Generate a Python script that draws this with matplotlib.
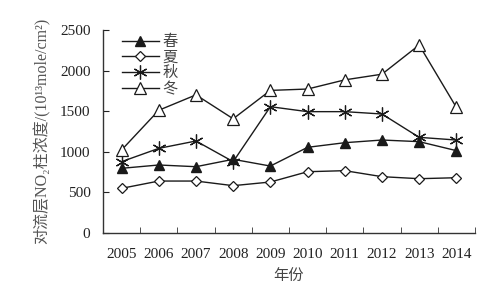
import matplotlib
matplotlib.use("Agg")
import matplotlib.pyplot as plt
from matplotlib.ticker import FixedLocator, NullFormatter

plt.rcParams['font.family'] = ['Liberation Serif', 'Noto Sans CJK SC', 'DejaVu Serif']

years = ['2005', '2006', '2007', '2008', '2009', '2010', '2011', '2012', '2013', '2014']
spring = [794, 835, 814, 905, 822, 1053, 1110, 1143, 1123, 1012]
summer = [547, 637, 637, 580, 625, 752, 765, 691, 666, 678]
autumn = [876, 1040, 1131, 876, 1554, 1493, 1493, 1464, 1176, 1143]
winter = [1020, 1510, 1700, 1405, 1755, 1772, 1885, 1955, 2315, 1545]
series_names = ['春', '夏', '秋', '冬']

fig = plt.figure(figsize=(4.92, 2.96), dpi=100)
ax = fig.add_axes([0.2093, 0.2139, 0.7561, 0.6847])

x = list(range(len(years)))
lc = '#1a1a1a'
ax.plot(x, spring, color=lc, lw=1.0, marker='^', ms=7, mfc=lc, mec=lc, label=series_names[0])
ax.plot(x, summer, color=lc, lw=1.0, marker='D', ms=5.5, mfc='white', mec=lc, mew=0.9, label=series_names[1])
ax.plot(x, autumn, color=lc, lw=1.0, marker=(6, 2, 0), ms=10, mec=lc, mew=0.9, label=series_names[2])
ax.plot(x, winter, color=lc, lw=1.0, marker='^', ms=9, mfc='white', mec=lc, mew=0.9, label=series_names[3])

ax.set_xlim(-0.5, len(years) - 0.5)
ax.set_ylim(0, 2500)
ax.set_yticks([0, 500, 1000, 1500, 2000, 2500])
ax.set_xticks(x)
ax.set_xticklabels(years)
ax.tick_params(axis='x', which='major', length=0, pad=11, labelsize=11, colors='#222222')
ax.xaxis.set_minor_locator(FixedLocator([i + 0.5 for i in x]))
ax.xaxis.set_minor_formatter(NullFormatter())
ax.tick_params(axis='x', which='minor', direction='in', length=4, color='#333333')
ax.tick_params(axis='y', direction='in', length=4, labelsize=11, colors='#222222', pad=9)

for s in ['top', 'right']:
    ax.spines[s].set_visible(False)
for s in ['left', 'bottom']:
    ax.spines[s].set_color('#333333')
    ax.spines[s].set_linewidth(1.0)

ax.set_xlabel('年份', fontsize=11, color='#444444', labelpad=6)
ax.set_ylabel('对流层NO\u2082柱浓度/(10\u00b9\u00b3mole/cm\u00b2)', fontsize=11.5, color='#555555', labelpad=7)

leg = ax.legend(loc='upper left', frameon=False, fontsize=11, handlelength=2.4,
                handletextpad=0.25, labelspacing=0.1, borderaxespad=0.0,
                bbox_to_anchor=(0.035, 1.005))
for t in leg.get_texts():
    t.set_color('#444444')

fig.savefig('out.png', dpi=100)
